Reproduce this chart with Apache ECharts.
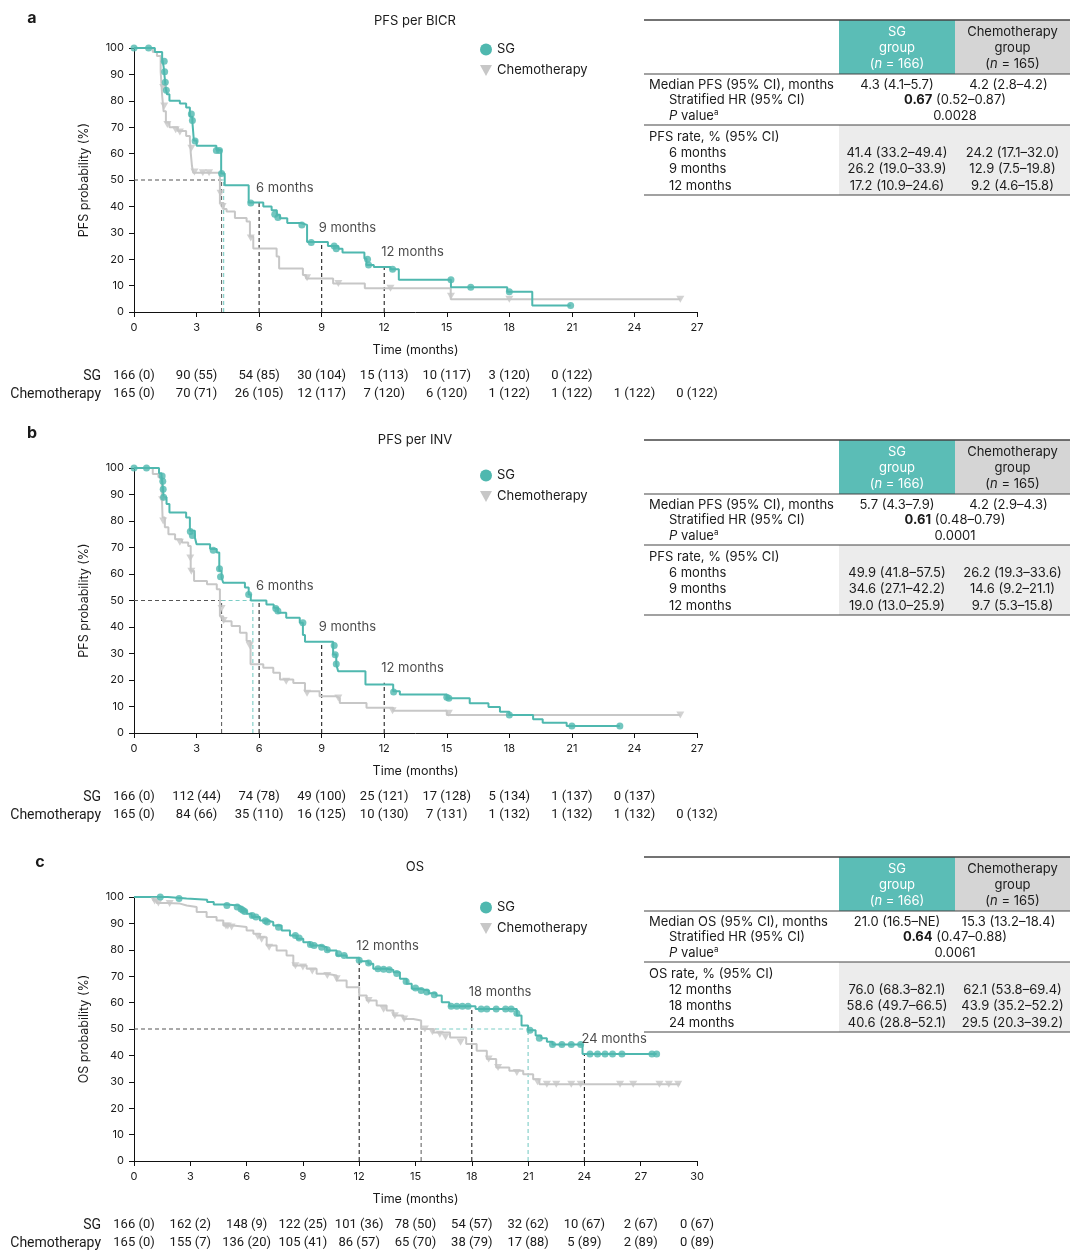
<!DOCTYPE html>
<html><head><meta charset="utf-8">
<script src="https://cdn.jsdelivr.net/npm/echarts@6/dist/echarts.min.js"></script>
<style>html,body{margin:0;padding:0;background:#fff}#c{width:1080px;height:1258px}</style>
</head><body><div id="c"></div>
<script>
// ---------- DATA ----------
const panelLetters = ['a', 'b', 'c'];
const panelTitles = ['PFS per BICR', 'PFS per INV', 'OS'];
const yAxisNames = ['PFS probability (%)', 'PFS probability (%)', 'OS probability (%)'];
const xMaxes = [27, 27, 30];
const xAxisName = 'Time (months)';
const seriesNames = ['SG', 'Chemotherapy'];

// Kaplan-Meier step points [month, %]
const sgA = [[0,100],[1.0,98.5],[1.35,96],[1.42,93],[1.47,89],[1.52,85],[1.58,82.5],[1.7,80],[2.2,79],[2.5,77.5],[2.68,74],[2.8,72],[2.87,65],[3.0,63],[3.95,61.5],[4.18,52.5],[4.35,48],[5.5,41.5],[6.2,40],[6.6,38.5],[6.85,36.8],[7.0,35.5],[7.35,33.7],[8.0,33],[8.3,26.5],[9.3,25],[9.8,24],[10.0,22.5],[11.05,20.3],[11.15,17.8],[11.5,17],[12.3,16.2],[12.7,12.2],[15.2,9.4],[17.9,7.7],[19.1,2.5],[20.94,2.5]];
const chemoA = [[0,100],[0.9,98.5],[1.1,97],[1.28,91],[1.35,82],[1.42,76],[1.53,71.8],[1.7,70],[2.1,68.6],[2.5,66.7],[2.68,65.4],[2.72,60.4],[2.78,55.3],[2.84,52.7],[4.12,41.3],[4.3,39],[4.44,38.1],[4.84,35.6],[5.4,34.3],[5.56,28.6],[5.72,24.1],[6.84,21],[6.96,16.5],[8.1,14],[8.25,12.7],[9.55,10.8],[11.07,9],[15.19,4.8],[26.2,4.8]];
const sgCensorA = [[0,100],[0.7,100],[1.45,95],[1.47,91],[1.5,87],[1.55,84],[2.75,75],[2.8,72.5],[2.93,64.8],[3.95,61.2],[4.1,61.2],[4.2,52.5],[5.6,41.3],[6.75,37],[6.9,35.8],[8.05,33],[8.5,26.3],[9.6,25],[9.7,24],[11.2,20],[11.25,17.8],[12.4,16.2],[15.2,12.2],[16.15,9.4],[18.0,7.7],[20.94,2.5]];
const chemoCensorA = [[1.4,85],[1.45,78],[1.6,71],[2.0,69],[2.2,68.2],[2.75,62],[2.9,53],[3.3,52.7],[3.6,52.7],[4.15,45],[4.25,40],[5.6,28],[8.3,13],[9.8,10.8],[12.3,9],[15.2,6],[18.0,4.8],[26.2,4.8]];

const sgB = [[0,100],[1.2,98],[1.32,97],[1.37,94],[1.42,89],[1.56,86.4],[1.7,83.2],[2.5,81.3],[2.68,76.3],[2.92,73.8],[3.0,71.2],[3.65,69.4],[3.97,68.1],[4.09,61.2],[4.2,58.6],[4.28,56.7],[5.32,54.9],[5.5,52.3],[5.6,50],[6.35,48.5],[6.7,47.3],[6.9,45.4],[7.3,43.5],[7.95,41.6],[8.1,37],[8.2,34.4],[9.55,29.6],[9.7,25.9],[9.79,23.3],[11.1,18.3],[12.43,15.8],[12.75,14.5],[15.0,13.1],[16.1,11.2],[17.0,9.8],[17.55,8.0],[18.0,6.8],[19.14,5.2],[19.6,3.9],[20.75,2.6],[23.3,2.6]];
const chemoB = [[0,100],[0.9,97.7],[1.17,96.5],[1.33,90.8],[1.37,81.3],[1.48,77.6],[1.65,75],[1.97,73.1],[2.3,71.9],[2.6,70.6],[2.72,61.2],[2.88,57.4],[3.5,56.1],[3.97,54.2],[4.12,44.1],[4.28,42.2],[4.68,40.4],[5.08,37.8],[5.4,34.7],[5.59,25.9],[6.2,24.6],[6.68,22.7],[7.0,20.2],[7.64,18.9],[8.2,15.8],[8.9,13.9],[9.7,13.2],[9.87,11.3],[11.15,9.5],[12.43,8.4],[15.0,6.8],[26.2,6.8]];
const sgCensorB = [[0,100],[0.6,100],[1.35,97],[1.38,95],[1.4,92],[1.42,89],[2.7,76],[2.8,74.5],[3.8,69],[4.1,62],[4.15,59],[5.5,52.3],[6.8,47],[6.9,46],[8.1,41.6],[9.6,33],[9.65,29.5],[9.7,26],[12.45,15.5],[15.0,13.5],[15.1,13.1],[18.0,6.8],[21.0,2.6],[23.3,2.6]];
const chemoCensorB = [[1.35,88],[1.4,80],[2.2,72],[2.7,66],[2.75,61],[4.2,47],[4.3,42.5],[5.55,33],[7.3,19.5],[8.3,15],[9.8,13.2],[12.4,8.4],[15.1,7.5],[26.2,6.8]];

const sgC = [[0,100],[1.8,99.4],[2.8,99],[3.9,98.1],[4.25,97.2],[4.94,96.8],[5.56,96.2],[5.74,94.9],[6.0,93.7],[6.27,92.4],[6.71,91.1],[7.07,90.5],[7.42,89.2],[7.87,87.3],[8.31,85.4],[8.67,84.2],[9.02,82.9],[9.38,81.6],[9.91,81],[10.27,79.7],[10.8,77.8],[11.33,77],[12.0,75.7],[12.49,74.7],[12.75,72.8],[13.46,72.4],[13.82,71.5],[14.17,69],[14.53,67.1],[14.8,65.2],[15.24,64.6],[15.7,63.5],[16.1,62.7],[16.4,60.1],[16.8,58.6],[18.2,57.6],[20.2,57.6],[20.4,55.1],[20.65,51.3],[21.0,49.5],[21.4,47.5],[21.7,46.5],[22.0,45.2],[22.3,44.1],[23.9,40.5],[27.85,40.5]];
const chemoC = [[0,100],[1.03,98.7],[1.21,97.7],[1.74,97.5],[2.45,96.8],[2.81,96.2],[3.34,94.3],[3.87,92.4],[4.4,91.1],[4.76,89.2],[5.29,88.6],[6.0,87.3],[6.36,86.1],[6.71,84.8],[7.07,81.6],[7.6,79.7],[8.13,77.8],[8.49,74.1],[9.2,72.8],[9.73,70.9],[10.27,70.3],[10.8,68.4],[11.33,65.8],[12.0,62.7],[12.4,60.8],[12.93,58.9],[13.46,57],[13.82,55.1],[14.35,53.8],[14.88,53.2],[15.3,50],[15.95,48.7],[16.84,46.8],[17.7,44.3],[18.26,41.8],[18.8,38.6],[19.3,35.4],[20.0,34.2],[20.74,32.9],[21.27,31.0],[21.6,29.1],[29.1,29.1]];
const sgCensorC = [[1.4,100],[2.4,99.4],[4.95,96.8],[5.5,96.2],[5.7,95.5],[5.8,95],[5.9,94.5],[6.3,93],[6.5,92.4],[7.0,91],[7.1,90.5],[7.7,88.5],[8.6,85.4],[8.8,84.5],[9.4,82],[9.6,81.6],[10.0,81],[10.3,80],[10.9,78.5],[11.2,77.8],[12.0,76],[12.5,75],[13.0,72.8],[13.3,72.6],[13.6,72.4],[14.0,71],[14.5,68],[15.0,65.5],[15.3,64.6],[15.6,64],[16.0,63],[16.9,58.6],[17.2,58.6],[17.5,58.6],[17.8,58.6],[18.5,57.6],[18.8,57.6],[19.3,57.6],[19.8,57.6],[20.1,57.6],[20.4,56],[21.1,49.5],[21.6,46.5],[22.3,44.1],[22.8,44.1],[23.3,44.1],[23.8,44.1],[24.3,40.5],[24.7,40.5],[25.1,40.5],[25.5,40.5],[26.0,40.5],[27.6,40.5],[27.85,40.5]];
const chemoCensorC = [[1.1,98.5],[1.3,97.7],[1.9,97.5],[4.9,89],[5.0,89],[5.2,88.6],[6.6,85],[6.8,84],[7.2,81],[8.6,74],[9.0,73.5],[9.5,72],[10.3,70.3],[10.8,69],[12.5,60.8],[13.3,57.5],[13.9,55],[14.4,53.8],[15.5,50],[15.9,49],[16.3,48],[16.6,47],[17.4,45],[18.9,38.6],[19.4,35.4],[20.4,33.5],[21.5,30],[22.0,29.1],[22.5,29.1],[23.3,29.1],[23.8,29.1],[25.9,29.1],[26.6,29.1],[28.0,29.1],[28.5,29.1],[29.0,29.1]];

const sgCurves = [sgA, sgB, sgC];
const chemoCurves = [chemoA, chemoB, chemoC];
const sgCensors = [sgCensorA, sgCensorB, sgCensorC];
const chemoCensors = [chemoCensorA, chemoCensorB, chemoCensorC];

const medianSG = [4.3, 5.7, 21.0];
const medianChemo = [4.2, 4.2, 15.3];
const landmarkMonths = [[6, 9, 12], [6, 9, 12], [12, 18, 24]];
const landmarkSG = [[41.4, 26.2, 17.2], [49.9, 34.6, 19.0], [76.0, 58.6, 40.6]];

// Numbers at risk
const riskSG = [
  ['166 (0)','90 (55)','54 (85)','30 (104)','15 (113)','10 (117)','3 (120)','0 (122)'],
  ['166 (0)','112 (44)','74 (78)','49 (100)','25 (121)','17 (128)','5 (134)','1 (137)','0 (137)'],
  ['166 (0)','162 (2)','148 (9)','122 (25)','101 (36)','78 (50)','54 (57)','32 (62)','10 (67)','2 (67)','0 (67)']];
const riskChemo = [
  ['165 (0)','70 (71)','26 (105)','12 (117)','7 (120)','6 (120)','1 (122)','1 (122)','1 (122)','0 (122)'],
  ['165 (0)','84 (66)','35 (110)','16 (125)','10 (130)','7 (131)','1 (132)','1 (132)','1 (132)','0 (132)'],
  ['165 (0)','155 (7)','136 (20)','105 (41)','86 (57)','65 (70)','38 (79)','17 (88)','5 (89)','2 (89)','0 (89)']];

// Summary tables
const tblHeadSG = ['SG', 'group', '({i|n} = 166)'];
const tblHeadChemo = ['Chemotherapy', 'group', '({i|n} = 165)'];
const tblMedianLabel = ['Median PFS (95% CI), months', 'Median PFS (95% CI), months', 'Median OS (95% CI), months'];
const tblMedianSG = ['4.3 (4.1–5.7)', '5.7 (4.3–7.9)', '21.0 (16.5–NE)'];
const tblMedianChemo = ['4.2 (2.8–4.2)', '4.2 (2.9–4.3)', '15.3 (13.2–18.4)'];
const tblHR = ['0.67', '0.61', '0.64'];
const tblHRCI = ['(0.52–0.87)', '(0.48–0.79)', '(0.47–0.88)'];
const tblP = ['0.0028', '0.0001', '0.0061'];
const tblRateLabel = ['PFS rate, % (95% CI)', 'PFS rate, % (95% CI)', 'OS rate, % (95% CI)'];
const tblRateRows = [['6 months','9 months','12 months'], ['6 months','9 months','12 months'], ['12 months','18 months','24 months']];
const tblRateSG = [['41.4 (33.2–49.4)','26.2 (19.0–33.9)','17.2 (10.9–24.6)'], ['49.9 (41.8–57.5)','34.6 (27.1–42.2)','19.0 (13.0–25.9)'], ['76.0 (68.3–82.1)','58.6 (49.7–66.5)','40.6 (28.8–52.1)']];
const tblRateChemo = [['24.2 (17.1–32.0)','12.9 (7.5–19.8)','9.2 (4.6–15.8)'], ['26.2 (19.3–33.6)','14.6 (9.2–21.1)','9.7 (5.3–15.8)'], ['62.1 (53.8–69.4)','43.9 (35.2–52.2)','29.5 (20.3–39.2)']];

// ---------- STYLE / LAYOUT ----------
const FONT = 'Inter, Roboto, "Noto Sans", sans-serif';
const RFONT = 'Roboto, Inter, sans-serif';
const TEAL = '#4fb8af', TEAL_LIGHT = '#7ccdc6', TEAL_HDR = '#5bbdb6', GREY = '#c7c7c7', GREY_HDR = '#d5d5d5', GREY_BG = '#ececec', TXT = '#1a1a1a';
const gridTops = [48, 468, 897];
const gridHeights = [264, 265, 264];
const gridLeft = 134, gridWidth = 563;
const tableTops = [20, 440, 857];
const letterPos = [[32, 18], [32, 433], [40, 862]];
const titleY = [20, 439, 866];
const legendTops = [43, 469, 901];
const TRI = 'path://M0,0 L10,0 L5,9 Z';

const chart = echarts.init(document.getElementById('c'), null, {renderer: 'canvas'});

const grids = [], xAxes = [], yAxes = [], series = [], legends = [];
for (let p = 0; p < 3; p++) {
  grids.push({left: gridLeft, top: gridTops[p], width: gridWidth, height: gridHeights[p]});
  xAxes.push({type: 'value', gridIndex: p, min: 0, max: xMaxes[p], interval: 3,
    name: xAxisName, nameLocation: 'middle', nameGap: 32,
    nameTextStyle: {fontFamily: FONT, fontSize: 12.5, color: TXT},
    axisLine: {show: true, onZero: false, lineStyle: {color: '#111', width: 1}},
    axisTick: {show: true, length: 5, lineStyle: {color: '#111'}},
    axisLabel: {fontFamily: FONT, fontSize: 11, color: TXT, margin: 10},
    splitLine: {show: false}});
  yAxes.push({type: 'value', gridIndex: p, min: 0, max: 100, interval: 10,
    name: yAxisNames[p], nameLocation: 'middle', nameGap: 43,
    nameTextStyle: {fontFamily: FONT, fontSize: 12.5, color: TXT},
    axisLine: {show: true, onZero: false, lineStyle: {color: '#111', width: 1}},
    axisTick: {show: true, length: 5, lineStyle: {color: '#111'}},
    axisLabel: {fontFamily: FONT, fontSize: 11, color: TXT, margin: 10},
    splitLine: {show: false}});
  legends.push({left: 480, top: legendTops[p], padding: 0, orient: 'vertical', itemWidth: 12, itemHeight: 12, itemGap: 8,
    textStyle: {fontFamily: FONT, fontSize: 13, color: TXT},
    data: [{name: 'SG', icon: 'circle', itemStyle: {color: TEAL}},
           {name: 'Chemotherapy', icon: TRI, itemStyle: {color: GREY}}]});

  const dashed = (pts, color, z) => ({type: 'line', xAxisIndex: p, yAxisIndex: p, data: pts, symbol: 'none', silent: true,
    lineStyle: {color, width: 1.1, type: [4, 3]}, z: z || 1});
  const mS = medianSG[p], mC = medianChemo[p];
  series.push(dashed([[0, 50], [Math.min(mS, mC), 50]], '#555'));
  if (mS > mC) series.push(dashed([[mC, 50], [mS, 50]], TEAL_LIGHT));
  series.push(dashed([[mC, 0], [mC, 50]], '#666'));
  series.push(dashed([[mS, 0], [mS, 50]], TEAL_LIGHT));
  landmarkMonths[p].forEach((t, i) => series.push(dashed([[t, 0], [t, landmarkSG[p][i]]], '#222', 2)));

  series.push({name: 'Chemotherapy', type: 'line', step: 'end', xAxisIndex: p, yAxisIndex: p, data: chemoCurves[p],
    symbol: 'none', lineStyle: {color: GREY, width: 2}, itemStyle: {color: GREY}, z: 3});
  series.push({name: 'SG', type: 'line', step: 'end', xAxisIndex: p, yAxisIndex: p, data: sgCurves[p],
    symbol: 'none', lineStyle: {color: TEAL, width: 2}, itemStyle: {color: TEAL}, z: 4});
  series.push({name: 'Chemotherapy', type: 'scatter', xAxisIndex: p, yAxisIndex: p, data: chemoCensors[p],
    symbol: TRI, symbolSize: [8, 7], itemStyle: {color: GREY}, z: 5});
  series.push({name: 'SG', type: 'scatter', xAxisIndex: p, yAxisIndex: p, data: sgCensors[p],
    symbol: 'circle', symbolSize: 7, itemStyle: {color: TEAL}, z: 6});
  // landmark labels
  series.push({type: 'scatter', xAxisIndex: p, yAxisIndex: p, silent: true, symbolSize: 0,
    data: landmarkMonths[p].map((t, i) => ({value: [t, landmarkSG[p][i]], label: {formatter: t + ' months'}})),
    label: {show: true, position: [-3, -21], fontFamily: FONT, fontSize: 13, color: TXT, align: 'left', verticalAlign: 'top'}, z: 7});
}

chart.setOption({
  animation: false,
  grid: grids, xAxis: xAxes, yAxis: yAxes, legend: legends, series: series
});

// ---------- GRAPHICS (titles, risk tables, summary tables) ----------
const g = [];
const txt = (text, x, y, opts) => g.push(Object.assign({type: 'text', silent: true, z: 100,
  style: Object.assign({text, x, y, fontFamily: FONT, fontSize: 13, fill: TXT, align: 'left', verticalAlign: 'middle'}, opts || {})}));
const rect = (x, y, w, h, fill) => g.push({type: 'rect', silent: true, z: 90, shape: {x, y, width: w, height: h}, style: {fill}});
const hline = (x1, x2, y, w) => g.push({type: 'line', silent: true, z: 95, shape: {x1, y1: y, x2, y2: y}, style: {stroke: '#444', lineWidth: w || 1.2}});

for (let p = 0; p < 3; p++) {
  txt(panelLetters[p], letterPos[p][0], letterPos[p][1], {fontSize: 16, fontWeight: 'bold', fontFamily: 'Inter, sans-serif', align: 'center'});
  txt(panelTitles[p], 415, titleY[p] + 1, {align: 'center', fontSize: 13});

  // risk table
  const base = gridTops[p] + gridHeights[p];
  const ySG = base + 64, yCh = base + 82;
  txt('SG', 101, ySG, {align: 'right', fontFamily: RFONT, fontSize: 14});
  txt('Chemotherapy', 101, yCh, {align: 'right', fontFamily: RFONT, fontSize: 14});
  riskSG[p].forEach((s, i) => {
    const x = chart.convertToPixel({xAxisIndex: p}, i * 3);
    txt(s, x, ySG, {align: 'center', fontFamily: RFONT, fontSize: 13});
  });
  riskChemo[p].forEach((s, i) => {
    const x = chart.convertToPixel({xAxisIndex: p}, i * 3);
    txt(s, x, yCh, {align: 'center', fontFamily: RFONT, fontSize: 13});
  });

  // summary table
  const T = tableTops[p];
  const L = 644, R = 1070, c1 = 839, c2 = 955;
  const cx1 = (c1 + c2) / 2, cx2 = (c2 + R) / 2;
  rect(c1, T, c2 - c1, 54, TEAL_HDR);
  rect(c2, T, R - c2, 54, GREY_HDR);
  rect(c1, T + 105, R - c1, 70, GREY_BG);
  hline(L, R, T, 1.3); hline(L, R, T + 54); hline(L, R, T + 105); hline(L, R, T + 175);
  const rich = {i: {fontStyle: 'italic', fontFamily: FONT, fontSize: 13},
                b: {fontWeight: 'bold', fontFamily: FONT, fontSize: 13},
                sup: {fontFamily: FONT, fontSize: 8, padding: [0, 0, 7, 0]}};
  tblHeadSG.forEach((s, i) => txt(s, cx1, T + 12 + i * 16, {align: 'center', fill: '#fff', rich: {i: Object.assign({}, rich.i, {fill: '#fff'})}}));
  tblHeadChemo.forEach((s, i) => txt(s, cx2, T + 12 + i * 16, {align: 'center', rich: {i: rich.i}}));
  txt(tblMedianLabel[p], 649, T + 65);
  txt(tblMedianSG[p], cx1, T + 65, {align: 'center'});
  txt(tblMedianChemo[p], cx2 - 4, T + 65, {align: 'center'});
  txt('Stratified HR (95% CI)', 669, T + 80);
  txt('{b|' + tblHR[p] + '} ' + tblHRCI[p], c2, T + 80, {align: 'center', rich: {b: rich.b}});
  txt('{i|P} value{sup|a}', 669, T + 96, {rich: {i: rich.i, sup: rich.sup}});
  txt(tblP[p], c2, T + 96, {align: 'center'});
  txt(tblRateLabel[p], 649, T + 117);
  tblRateRows[p].forEach((s, i) => {
    txt(s, 669, T + 133 + i * 16.5);
    txt(tblRateSG[p][i], cx1, T + 133 + i * 16.5, {align: 'center'});
    txt(tblRateChemo[p][i], cx2, T + 133 + i * 16.5, {align: 'center'});
  });
}
chart.setOption({graphic: {elements: g}});
</script>
</body></html>
